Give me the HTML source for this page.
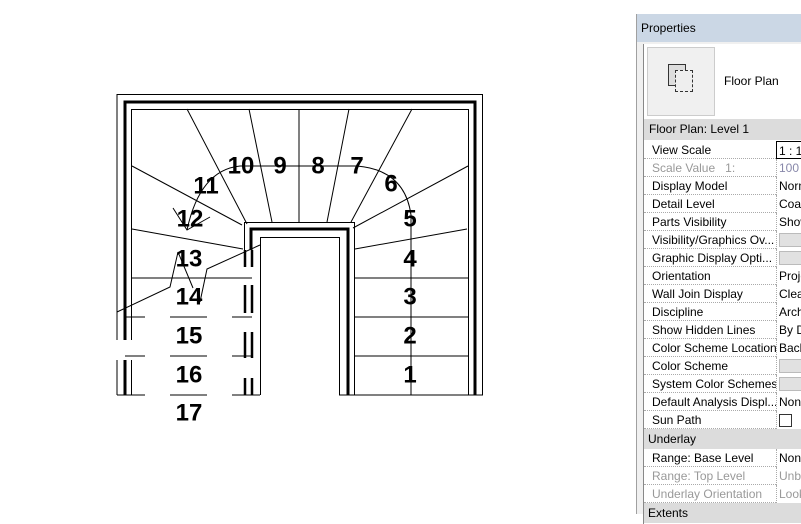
<!DOCTYPE html>
<html><head><meta charset="utf-8"><style>
body{margin:0;width:801px;height:508px;background:#fff;position:relative;overflow:hidden;font-family:"Liberation Sans",sans-serif}
svg{position:absolute;left:0;top:0}
.p{position:absolute;left:636px;top:14px;width:170px;height:500px;background:#f0f0f0;border-left:1px solid #a0a0a0}
.t{position:absolute;left:0;top:0;width:170px;height:28px;background:#cbd7e5;font-size:12px;line-height:28px;padding-left:4px;box-sizing:border-box}
.in{position:absolute;left:6px;top:30px;width:170px;height:480px;background:#fff;border-left:1px solid #888}
.row{position:absolute;left:0;width:170px;height:18px;font-size:12px;line-height:18px;border-bottom:1px dotted #aaa;box-sizing:border-box}
.row .l{position:absolute;left:8px}
.row .v{position:absolute;left:132px;border-left:1px dotted #aaa;padding-left:2px;height:18px;width:40px;background:#fff}
.g{color:#999}
.hd{position:absolute;left:0;width:170px;height:20px;background:#dcdcdc;font-size:12px;line-height:20px;padding-left:4px;box-sizing:border-box}
.btn{display:inline-block;width:30px;height:12px;background:#e1e1e1;border:1px solid #bbb;margin-top:2px}
</style></head><body>
<svg width="801" height="508" font-family="Liberation Sans" font-weight="bold" font-size="24">
<g fill="none" stroke="#000">
<path d="M117,395 V94.5 H482.5 V395" stroke-width="1"/>
<path d="M125,340 V102 H475 V395" stroke-width="3"/>
<path d="M131.5,340 V109.5 H468.5 V395" stroke-width="1"/>
<rect x="108" y="340" width="30" height="20" fill="#fff" stroke="none"/>
<path d="M131.5,360V395" stroke-width="1"/>
<path d="M125,360V395" stroke-width="3"/>
<path d="M244.5,395 V222.5 H354.5 V395" stroke-width="1"/>
<path d="M251,395 V229 H348 V395" stroke-width="3"/>
<path d="M260.5,395 V237.5 H339.5 V395" stroke-width="1"/>
<rect x="240" y="250" width="14" height="146" fill="#fff" stroke="none"/>
<path d="M245,250V267M245,285V313M245,332V358M245,378V395M252,250V267M252,285V313M252,332V358M252,378V395" stroke-width="2.5"/>
<g stroke-width="1">
<path d="M187,109L247,224M249,109L272,222M299,109V222M349,109L327,222M412,109L351,222"/>
<path d="M132,166L242,225M468,166L353,228M132,229L243,249M467,229L355,249"/>
<path d="M131,278H252M354,278H468M354,317H468M354,356H468M339,395H483"/>
<path d="M125,317H145M170,317H207M232,317H252M125,356H145M170,356H207M232,356H252M117,395H145M170,395H207M232,395H260"/>
<path d="M411,395 L411,215 Q405,170 357,166 L240,166 Q200,170 187,230"/>
<path d="M173,208L187,230L210,217"/>
<path d="M260,245L207,269L200,302M178,252L170,287L117,312M178,252L193,288"/>
</g></g>
<g text-anchor="middle" dominant-baseline="central">
<text x="241" y="166">10</text><text x="280" y="166">9</text><text x="318" y="166">8</text><text x="357" y="166">7</text>
<text x="391" y="184">6</text><text x="410" y="219">5</text><text x="410" y="259">4</text><text x="410" y="297">3</text><text x="410" y="336">2</text><text x="410" y="375">1</text>
<text x="206" y="186">11</text><text x="190" y="219">12</text><text x="189" y="259">13</text><text x="189" y="297">14</text><text x="189" y="336">15</text><text x="189" y="375">16</text><text x="189" y="413">17</text>
</g>
</svg>
<div class="p">
<div class="t">Properties</div>
<div class="in">
<div style="position:absolute;left:3px;top:3px;width:66px;height:67px;background:#f0f0f0;border:1px solid #ccc"></div>
<div style="position:absolute;left:24px;top:20px;width:16px;height:20px;border:1px solid #333;background:#ddd"></div>
<div style="position:absolute;left:31px;top:26px;width:16px;height:20px;border:1px dashed #333;background:#eee"></div>
<div style="position:absolute;left:80px;top:30px;font-size:12px">Floor Plan</div>
<div class="hd" style="top:75px;height:21px;line-height:21px;padding-left:5px">Floor Plan: Level 1</div>
<div class="row" style="top:97px"><span class="l">View Scale</span><span class="v" style="border:1px solid #000;height:16px">1 : 1</span></div>
<div class="row g" style="top:115px"><span class="l">Scale Value &nbsp;&nbsp;1:</span><span class="v" style="color:#88a">100</span></div>
<div class="row" style="top:133px"><span class="l">Display Model</span><span class="v">Norm</span></div>
<div class="row" style="top:151px"><span class="l">Detail Level</span><span class="v">Coar</span></div>
<div class="row" style="top:169px"><span class="l">Parts Visibility</span><span class="v">Show</span></div>
<div class="row" style="top:187px"><span class="l">Visibility/Graphics Ov...</span><span class="v"><span class="btn"></span></span></div>
<div class="row" style="top:205px"><span class="l">Graphic Display Opti...</span><span class="v"><span class="btn"></span></span></div>
<div class="row" style="top:223px"><span class="l">Orientation</span><span class="v">Proje</span></div>
<div class="row" style="top:241px"><span class="l">Wall Join Display</span><span class="v">Clea</span></div>
<div class="row" style="top:259px"><span class="l">Discipline</span><span class="v">Arch</span></div>
<div class="row" style="top:277px"><span class="l">Show Hidden Lines</span><span class="v">By D</span></div>
<div class="row" style="top:295px"><span class="l">Color Scheme Location</span><span class="v">Back</span></div>
<div class="row" style="top:313px"><span class="l">Color Scheme</span><span class="v"><span class="btn"></span></span></div>
<div class="row" style="top:331px"><span class="l">System Color Schemes</span><span class="v"><span class="btn"></span></span></div>
<div class="row" style="top:349px"><span class="l">Default Analysis Displ...</span><span class="v">Non</span></div>
<div class="row" style="top:367px"><span class="l">Sun Path</span><span class="v"><span style="display:inline-block;width:11px;height:11px;border:1px solid #333;margin-top:3px"></span></span></div>
<div class="hd" style="top:385px">Underlay</div>
<div class="row" style="top:405px"><span class="l">Range: Base Level</span><span class="v">Non</span></div>
<div class="row g" style="top:423px"><span class="l">Range: Top Level</span><span class="v">Unbo</span></div>
<div class="row g" style="top:441px"><span class="l">Underlay Orientation</span><span class="v">Look</span></div>
<div class="hd" style="top:459px">Extents</div>
</div></div>
</body></html>
